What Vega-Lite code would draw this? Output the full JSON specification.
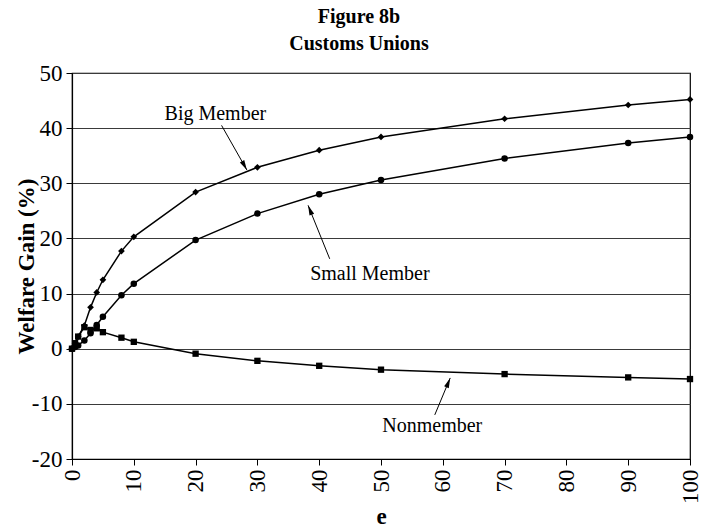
{
  "$schema": "https://vega.github.io/schema/vega-lite/v6.json",
  "width": 618,
  "height": 386,
  "autosize": {"type": "none"},
  "padding": {"left": 72, "top": 73, "right": 22, "bottom": 70},
  "background": "white",
  "config": {
    "font": "Liberation Serif",
    "view": {"stroke": "black", "strokeWidth": 1.2},
    "axis": {"labelFont": "Liberation Serif", "titleFont": "Liberation Serif", "labelColor": "black", "titleColor": "black", "domainColor": "black", "tickColor": "black"}
  },
  "title": {
    "text": ["Figure  8b", "Customs Unions"],
    "font": "Liberation Serif",
    "fontSize": 20,
    "fontWeight": "bold",
    "lineHeight": 27,
    "anchor": "middle",
    "dx": -22,
    "offset": 8,
    "color": "black"
  },
  "datasets": {
    "curves": [
      {"series": "Big Member", "e": 0, "v": 0},
      {"series": "Big Member", "e": 0.5, "v": 0.9},
      {"series": "Big Member", "e": 1, "v": 2.2},
      {"series": "Big Member", "e": 2, "v": 4.2},
      {"series": "Big Member", "e": 3, "v": 7.5},
      {"series": "Big Member", "e": 4, "v": 10.2},
      {"series": "Big Member", "e": 5, "v": 12.5},
      {"series": "Big Member", "e": 8, "v": 17.7},
      {"series": "Big Member", "e": 10, "v": 20.3},
      {"series": "Big Member", "e": 20, "v": 28.4},
      {"series": "Big Member", "e": 30, "v": 32.9},
      {"series": "Big Member", "e": 40, "v": 36.0},
      {"series": "Big Member", "e": 50, "v": 38.4},
      {"series": "Big Member", "e": 70, "v": 41.7},
      {"series": "Big Member", "e": 90, "v": 44.2},
      {"series": "Big Member", "e": 100, "v": 45.2},
      {"series": "Small Member", "e": 0, "v": 0},
      {"series": "Small Member", "e": 0.5, "v": 0.3},
      {"series": "Small Member", "e": 1, "v": 0.6},
      {"series": "Small Member", "e": 2, "v": 1.5},
      {"series": "Small Member", "e": 3, "v": 2.8},
      {"series": "Small Member", "e": 4, "v": 4.3},
      {"series": "Small Member", "e": 5, "v": 5.8},
      {"series": "Small Member", "e": 8, "v": 9.7},
      {"series": "Small Member", "e": 10, "v": 11.8},
      {"series": "Small Member", "e": 20, "v": 19.7},
      {"series": "Small Member", "e": 30, "v": 24.5},
      {"series": "Small Member", "e": 40, "v": 28.0},
      {"series": "Small Member", "e": 50, "v": 30.6},
      {"series": "Small Member", "e": 70, "v": 34.5},
      {"series": "Small Member", "e": 90, "v": 37.3},
      {"series": "Small Member", "e": 100, "v": 38.4},
      {"series": "Nonmember", "e": 0, "v": 0},
      {"series": "Nonmember", "e": 0.5, "v": 1.0},
      {"series": "Nonmember", "e": 1, "v": 2.2},
      {"series": "Nonmember", "e": 2, "v": 3.9},
      {"series": "Nonmember", "e": 3, "v": 3.4},
      {"series": "Nonmember", "e": 4, "v": 3.7},
      {"series": "Nonmember", "e": 5, "v": 3.0},
      {"series": "Nonmember", "e": 8, "v": 2.0},
      {"series": "Nonmember", "e": 10, "v": 1.25},
      {"series": "Nonmember", "e": 20, "v": -0.9},
      {"series": "Nonmember", "e": 30, "v": -2.2},
      {"series": "Nonmember", "e": 40, "v": -3.1},
      {"series": "Nonmember", "e": 50, "v": -3.8},
      {"series": "Nonmember", "e": 70, "v": -4.6},
      {"series": "Nonmember", "e": 90, "v": -5.2},
      {"series": "Nonmember", "e": 100, "v": -5.5}
    ],
    "labels": [
      {"label": "Big Member", "e": 23.2, "v": 42.6},
      {"label": "Small Member", "e": 48.2, "v": 13.6},
      {"label": "Nonmember", "e": 58.3, "v": -14.0}
    ],
    "arrows": [
      {"label": "Big Member", "e1": 24.2, "v1": 40.5, "e2": 28.3, "v2": 32.4},
      {"label": "Small Member", "e1": 41.7, "v1": 16.3, "e2": 38.2, "v2": 26.0},
      {"label": "Nonmember", "e1": 58.7, "v1": -12.0, "e2": 61.2, "v2": -5.3}
    ]
  },
  "encoding": {
    "x": {
      "field": "e", "type": "quantitative",
      "scale": {"domain": [0, 100], "nice": false, "zero": false},
      "axis": {
        "title": "e", "titleFontSize": 23, "titleFontWeight": "bold",
        "titleY": 57, "titleBaseline": "middle",
        "values": [0, 10, 20, 30, 40, 50, 60, 70, 80, 90, 100],
        "labelAngle": -90, "labelFontSize": 23, "labelPadding": 4,
        "tickSize": 6, "grid": false, "domainWidth": 1.2,
        "labelFlush": false, "labelOverlap": false
      }
    },
    "y": {
      "field": "v", "type": "quantitative",
      "scale": {"domain": [-20, 50], "nice": false, "zero": false},
      "axis": {
        "title": "Welfare Gain (%)", "titleFontSize": 23, "titleFontWeight": "bold",
        "titleX": -46, "titleBaseline": "middle", "titleAngle": -90,
        "values": [-20, -10, 0, 10, 20, 30, 40, 50],
        "labelExpr": "replace(datum.label, '\u2212', '-')",
        "labelFontSize": 23, "labelPadding": 4, "tickSize": 6,
        "grid": true, "gridColor": "#3a3a3a", "gridWidth": 1,
        "domainWidth": 1.2, "labelFlush": false, "labelOverlap": false
      }
    }
  },
  "layer": [
    {
      "data": {"name": "curves"},
      "mark": {"type": "line", "color": "black", "strokeWidth": 1.5},
      "encoding": {"detail": {"field": "series"}}
    },
    {
      "data": {"name": "curves"},
      "mark": {"type": "point", "filled": true, "color": "black", "opacity": 1},
      "encoding": {
        "shape": {
          "field": "series", "type": "nominal",
          "scale": {"domain": ["Big Member", "Small Member", "Nonmember"], "range": ["diamond", "circle", "square"]},
          "legend": null
        },
        "size": {
          "field": "series", "type": "nominal",
          "scale": {"domain": ["Big Member", "Small Member", "Nonmember"], "range": [45, 40, 45]},
          "legend": null
        }
      }
    },
    {
      "data": {"name": "labels"},
      "mark": {"type": "text", "font": "Liberation Serif", "fontSize": 20, "color": "black", "align": "center", "baseline": "middle"},
      "encoding": {"text": {"field": "label"}}
    },
    {
      "data": {"name": "arrows"},
      "mark": {"type": "rule", "color": "black", "strokeWidth": 1},
      "encoding": {
        "x": {"field": "e1", "type": "quantitative"},
        "y": {"field": "v1", "type": "quantitative"},
        "x2": {"field": "e2"},
        "y2": {"field": "v2"}
      }
    },
    {
      "data": {"name": "arrows"},
      "transform": [{"filter": "datum.label == 'Big Member'"}],
      "mark": {"type": "point", "filled": true, "color": "black", "opacity": 1, "shape": "M0,0L-0.5,2L0.5,2Z", "size": 100, "angle": 151},
      "encoding": {"x": {"field": "e2", "type": "quantitative"}, "y": {"field": "v2", "type": "quantitative"}}
    },
    {
      "data": {"name": "arrows"},
      "transform": [{"filter": "datum.label == 'Small Member'"}],
      "mark": {"type": "point", "filled": true, "color": "black", "opacity": 1, "shape": "M0,0L-0.5,2L0.5,2Z", "size": 100, "angle": 338},
      "encoding": {"x": {"field": "e2", "type": "quantitative"}, "y": {"field": "v2", "type": "quantitative"}}
    },
    {
      "data": {"name": "arrows"},
      "transform": [{"filter": "datum.label == 'Nonmember'"}],
      "mark": {"type": "point", "filled": true, "color": "black", "opacity": 1, "shape": "M0,0L-0.5,2L0.5,2Z", "size": 100, "angle": 22},
      "encoding": {"x": {"field": "e2", "type": "quantitative"}, "y": {"field": "v2", "type": "quantitative"}}
    }
  ]
}
